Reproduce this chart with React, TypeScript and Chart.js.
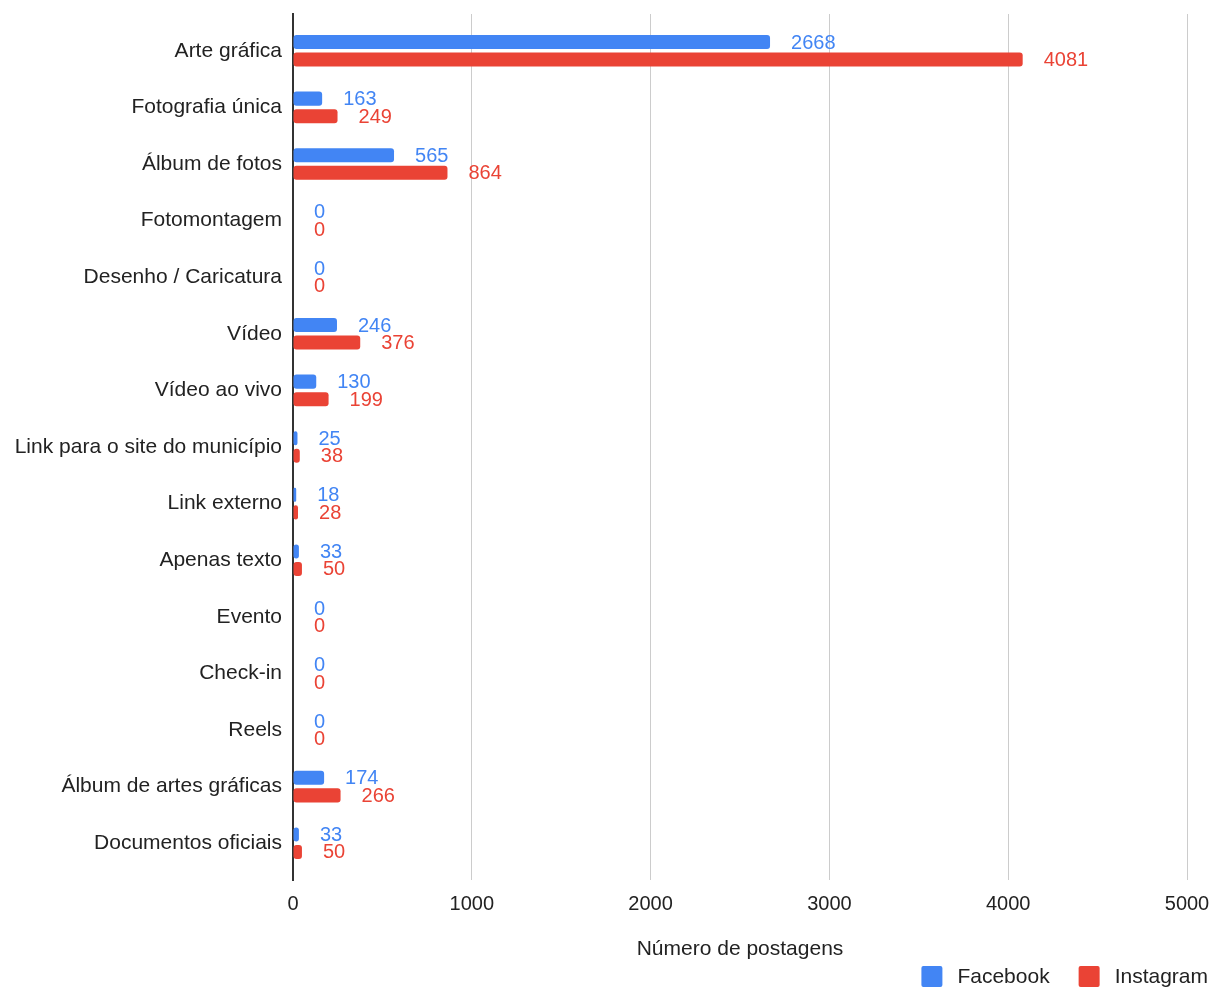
import React, { useEffect, useRef } from "react";
import { Chart, registerables } from "chart.js";

Chart.register(...registerables);

const categories: string[] = [
  "Arte gráfica",
  "Fotografia única",
  "Álbum de fotos",
  "Fotomontagem",
  "Desenho / Caricatura",
  "Vídeo",
  "Vídeo ao vivo",
  "Link para o site do município",
  "Link externo",
  "Apenas texto",
  "Evento",
  "Check-in",
  "Reels",
  "Álbum de artes gráficas",
  "Documentos oficiais",
];

const facebookValues: number[] = [2668, 163, 565, 0, 0, 246, 130, 25, 18, 33, 0, 0, 0, 174, 33];
const instagramValues: number[] = [4081, 249, 864, 0, 0, 376, 199, 38, 28, 50, 0, 0, 0, 266, 50];

const seriesNames: string[] = ["Facebook", "Instagram"];
const seriesColors: string[] = ["#4285F4", "#EA4335"];

const xTicks: number[] = [0, 1000, 2000, 3000, 4000, 5000];
const xTitle = "Número de postagens";

const FONT = "'Liberation Sans', Arial, sans-serif";
const FS = 21;
const TEXT = "#222222";

const valueLabelPlugin = {
  id: "valueLabels",
  afterDatasetsDraw(chart: any) {
    const ctx = chart.ctx;
    ctx.save();
    ctx.font = `${FS - 1}px ${FONT}`;
    ctx.textAlign = "left";
    ctx.textBaseline = "middle";
    chart.data.datasets.forEach((ds: any, di: number) => {
      const meta = chart.getDatasetMeta(di);
      ctx.fillStyle = ds.backgroundColor;
      meta.data.forEach((el: any, i: number) => {
        const v = ds.data[i].x;
        ctx.fillText(String(v), el.x + 21, el.y + 1);
      });
    });
    ctx.restore();
  },
};

const legendPlugin = {
  id: "customLegend",
  afterDraw(chart: any) {
    const ctx = chart.ctx;
    ctx.save();
    ctx.font = `${FS}px ${FONT}`;
    ctx.textBaseline = "middle";
    ctx.textAlign = "left";
    const box = 21;
    const gapText = 15;
    const gapItem = 29;
    const widths = seriesNames.map((n) => ctx.measureText(n).width);
    let total = 0;
    widths.forEach((w, i) => {
      total += box + gapText + w + (i < widths.length - 1 ? gapItem : 0);
    });
    let x = chart.width - 13 - total;
    const top = 966;
    seriesNames.forEach((n, i) => {
      ctx.fillStyle = seriesColors[i];
      ctx.beginPath();
      if ((ctx as any).roundRect) (ctx as any).roundRect(x, top, box, box, 2);
      else ctx.rect(x, top, box, box);
      ctx.fill();
      ctx.fillStyle = TEXT;
      ctx.fillText(n, x + box + gapText, top + 11);
      x += box + gapText + widths[i] + gapItem;
    });
    ctx.restore();
  },
};

export default function App() {
  const ref = useRef<HTMLCanvasElement | null>(null);

  useEffect(() => {
    if (!ref.current) return;
    const chart = new Chart(ref.current, {
      type: "bar",
      data: {
        datasets: [
          {
            label: seriesNames[0],
            data: facebookValues.map((v, i) => ({ x: v, y: i })),
            backgroundColor: seriesColors[0],
            borderRadius: 3,
            borderSkipped: false,
            categoryPercentage: 0.62,
            barPercentage: 0.8,
          },
          {
            label: seriesNames[1],
            data: instagramValues.map((v, i) => ({ x: v, y: i })),
            backgroundColor: seriesColors[1],
            borderRadius: 3,
            borderSkipped: false,
            categoryPercentage: 0.62,
            barPercentage: 0.8,
          },
        ],
      },
      options: {
        indexAxis: "y",
        responsive: false,
        animation: false,
        layout: { padding: { top: 14, right: 34, bottom: 20, left: 0 } },
        plugins: {
          legend: { display: false },
          tooltip: { enabled: false },
        },
        scales: {
          x: {
            type: "linear",
            min: xTicks[0],
            max: xTicks[xTicks.length - 1],
            offset: false,
            afterBuildTicks: (scale: any) => {
              scale.ticks = xTicks.map((v) => ({ value: v }));
            },
            ticks: {
              color: TEXT,
              font: { family: FONT, size: FS - 1 },
              padding: 12,
              maxRotation: 0,
              callback: (v: any) => String(v),
            },
            grid: {
              drawTicks: false,
              offset: false,
              color: (c: any) => (c.tick && c.tick.value === 0 ? "rgba(0,0,0,0)" : "#cccccc"),
              lineWidth: 1,
            },
            border: { display: false },
            title: {
              display: true,
              text: xTitle,
              color: TEXT,
              font: { family: FONT, size: FS },
              padding: { top: 21, bottom: 5 },
            },
            afterFit: (scale: any) => {
              scale.height = 87;
              scale.paddingLeft = 0;
              scale.paddingRight = 0;
            },
          },
          y: {
            type: "linear",
            reverse: true,
            offset: false,
            min: -0.65,
            max: categories.length - 1 + 0.65,
            afterBuildTicks: (scale: any) => {
              scale.ticks = categories.map((_, i) => ({ value: i }));
            },
            ticks: {
              color: TEXT,
              font: { family: FONT, size: FS },
              padding: 11,
              autoSkip: false,
              callback: (v: any) => categories[v as number],
            },
            grid: { display: false, drawTicks: false, offset: false },
            border: { display: true, color: "#333333", width: 2 },
            afterFit: (scale: any) => {
              scale.width = 293;
              scale.paddingTop = 0;
              scale.paddingBottom = 0;
            },
          },
        },
      } as any,
      plugins: [valueLabelPlugin, legendPlugin],
    });
    return () => chart.destroy();
  }, []);

  return (
    <div style={{ position: "fixed", left: 0, top: 0, width: 1221, height: 987, overflow: "hidden", background: "#fff" }}>
      <canvas ref={ref} width={1221} height={987} style={{ display: "block" }} />
    </div>
  );
}
